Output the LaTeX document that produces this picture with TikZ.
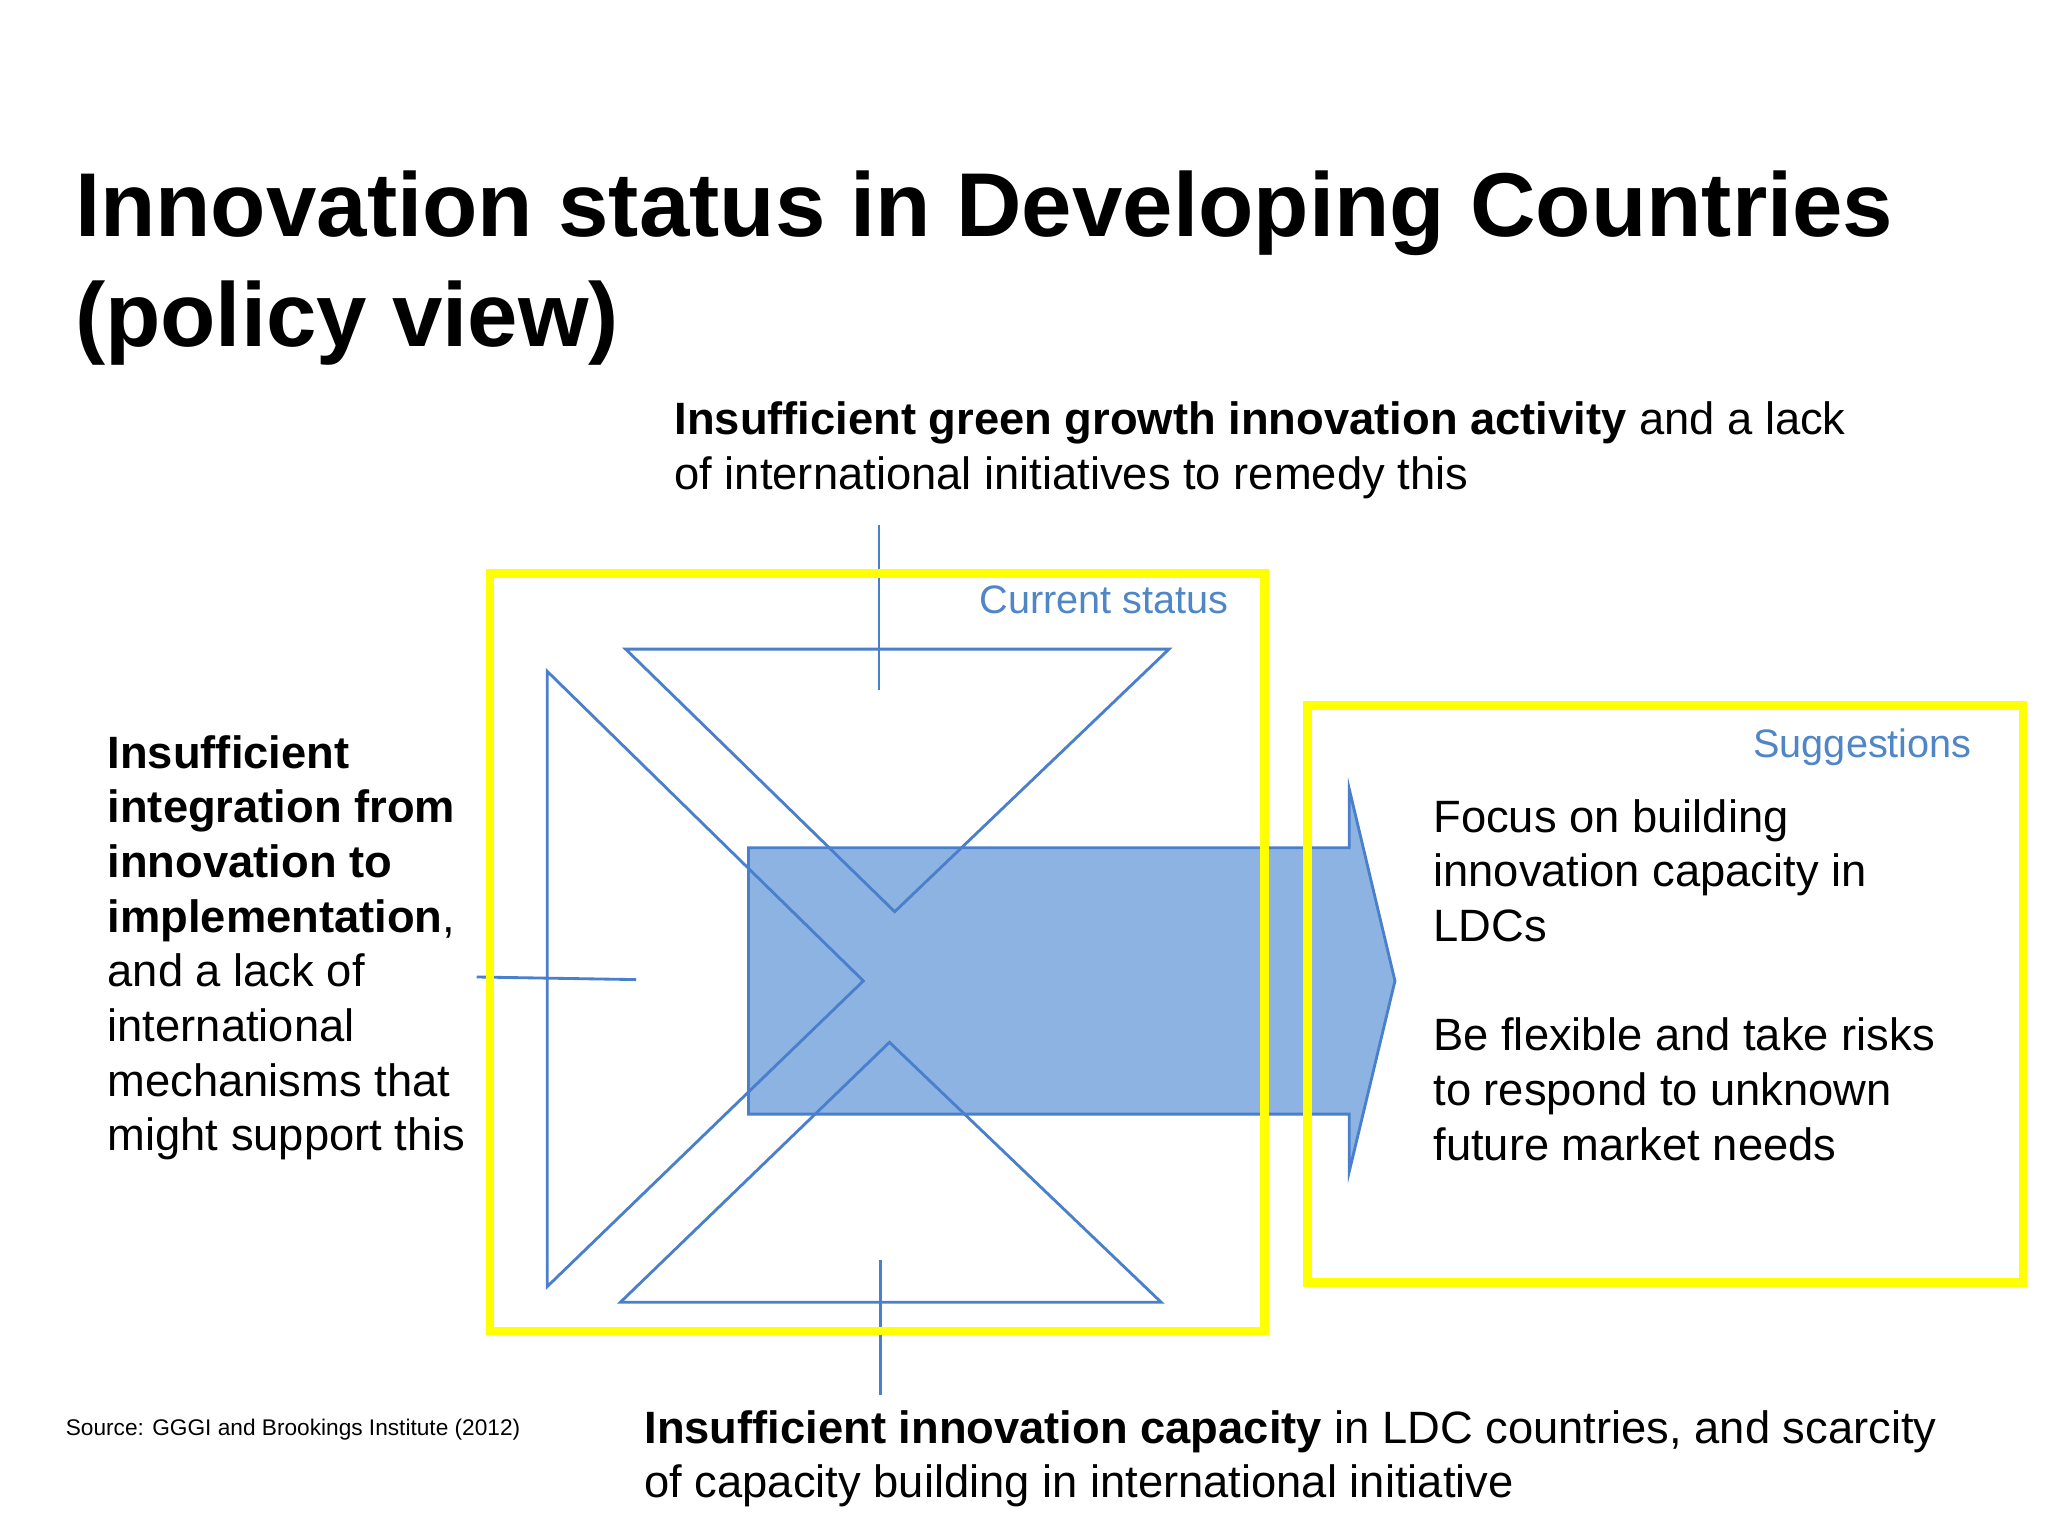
\documentclass[tikz,border=0pt]{standalone}
\usepackage{fontspec}
\setmainfont{Liberation Sans}
\definecolor{lineblue}{HTML}{4A7FCC}
\definecolor{fillblue}{HTML}{8DB3E2}
\definecolor{labelblue}{HTML}{4F86C6}
\definecolor{ylw}{HTML}{FFFF00}
\newcommand{\lines}[1]{\begin{tabular}[t]{@{}l@{}}#1\end{tabular}}
\begin{document}
\begin{tikzpicture}[x=0.016199cm, y=-0.016199cm,
  tri/.style={draw=lineblue, line width=1pt, line join=miter},
  leader/.style={draw=lineblue, line width=1pt},
  frame/.style={draw=ylw, line width=3pt},
  bigarrow/.style={fill=fillblue, draw=lineblue, line width=1pt, line join=miter},
  txt/.style={inner sep=0pt, anchor=base west, font=\fontsize{16}{19.3}\selectfont},
  lbl/.style={inner sep=0pt, anchor=base east, text=labelblue, font=\fontsize{14}{16.8}\selectfont}]
\fill[white] (0,0) rectangle (1568,1176);
\useasboundingbox (0,0) rectangle (1568,1176);

% title
\node[inner sep=0pt, anchor=base west, font=\fontsize{32}{39}\selectfont\bfseries] (title) at (57,181)
  {\lines{Innovation status in Developing Countries\\(policy view)}};

% arrow
\path[bigarrow] (573,649) -- (1033,649) -- (1033,604) -- (1068,751) -- (1033,897) -- (1033,853) -- (573,853) -- cycle;

% triangles
\draw[tri] (479,497) -- (895,497) -- (685,698) -- cycle;
\draw[tri] (419,514) -- (419,985) -- (661,751) -- cycle;
\draw[tri] (681,798) -- (475,997) -- (889,997) -- cycle;

% leaders
\coordinate (topA) at (673,402);
\coordinate (topB) at (673,528);
\coordinate (leftA) at (365,748);
\coordinate (leftB) at (487,750);
\coordinate (botA) at (674,965);
\coordinate (botB) at (674,1068);
\draw[leader] (topA) -- (topB);
\draw[leader] (leftA) -- (leftB);
\draw[leader] (botA) -- (botB);

% frames
\draw[frame] (375,439) rectangle (968,1019);
\draw[frame] (1001,540) rectangle (1549,982);

% labels
\node[lbl] (current) at (941,470) {Current status};
\node[lbl] (sugg) at (1510,580) {Suggestions};

% texts
\node[txt] (toptext) at (516,333)
  {\lines{\textbf{Insufficient green growth innovation activity} and a lack\\of international initiatives to remedy this}};
\node[txt] (lefttext) at (82,588)
  {\lines{\textbf{Insufficient}\\\textbf{integration from}\\\textbf{innovation to}\\\textbf{implementation},\\and a lack of\\international\\mechanisms that\\might support this}};
\node[txt] (righttext) at (1097,637)
  {\lines{Focus on building\\innovation capacity in\\LDCs\\ \\Be flexible and take risks\\to respond to unknown\\future market needs}};
\node[txt] (bottext) at (493,1105)
  {\lines{\textbf{Insufficient innovation capacity} in LDC countries, and scarcity\\of capacity building in international initiative}};
\node[inner sep=0pt, anchor=base west, font=\fontsize{8}{9.6}\selectfont] (source) at (50,1099)
  {Source: GGGI and Brookings Institute (2012)};
\end{tikzpicture}
\end{document}
